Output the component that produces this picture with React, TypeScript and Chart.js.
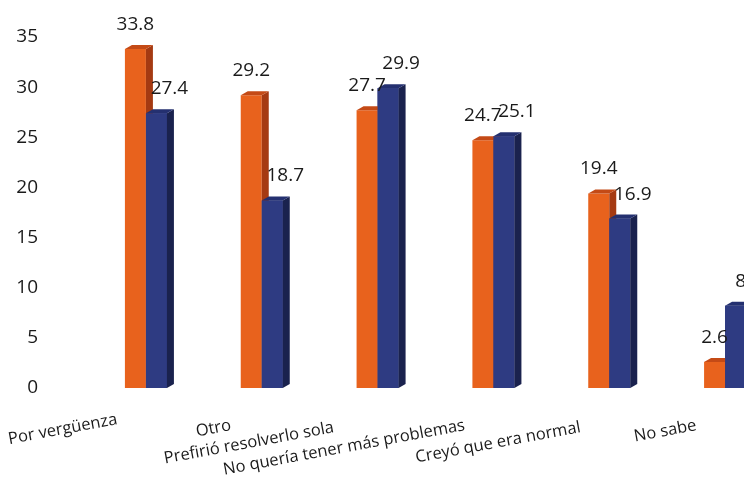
import React, { useEffect, useRef } from "react";
import { Chart, registerables } from "chart.js";

Chart.register(...registerables);

// ---- data ----
const CATEGORIES = [
  "Por vergüenza",
  "Otro",
  "Prefirió resolverlo sola",
  "No quería tener más problemas",
  "Creyó que era normal",
  "No sabe",
];
const SERIES_ORANGE = [33.8, 29.2, 27.7, 24.7, 19.4, 2.6];
const SERIES_BLUE = [27.4, 18.7, 29.9, 25.1, 16.9, 8.2];
const Y_MIN = 0;
const Y_MAX = 35;
const Y_STEP = 5;

// ---- layout / style ----
const CANVAS_W = 800;
const CANVAS_H = 485;
const PLOT_TOP = 37;
const PLOT_BOTTOM = 388;
const FONT = "'Open Sans', 'Noto Sans', sans-serif";
const ORANGE = { front: "#E8621D", top: "#C44A16", side: "#A53A12" };
const BLUE = { front: "#2E3B82", top: "#243070", side: "#1A224E" };
const DEPTH_X = 7;
const DEPTH_Y = 4;
const LABEL_SHIFT_X = [-28, -30, -43, -28, -28, -28];
const LABEL_DROP_Y = [36, 42, 44, 42, 44, 42];
const LABEL_ANGLE = (-10.5 * Math.PI) / 180;

function drawFaces(ctx: CanvasRenderingContext2D, el: any, colors: any, redrawFront: boolean) {
  const p = el.getProps(["x", "y", "base", "width"], true);
  const l = p.x - p.width / 2;
  const r = p.x + p.width / 2;
  const top = Math.min(p.y, p.base);
  const base = Math.max(p.y, p.base);
  if (redrawFront) {
    ctx.fillStyle = colors.front;
    ctx.fillRect(l, top, r - l, base - top);
  }
  ctx.fillStyle = colors.side;
  ctx.beginPath();
  ctx.moveTo(r, top);
  ctx.lineTo(r + DEPTH_X, top - DEPTH_Y);
  ctx.lineTo(r + DEPTH_X, base - DEPTH_Y);
  ctx.lineTo(r, base);
  ctx.closePath();
  ctx.fill();
  ctx.fillStyle = colors.top;
  ctx.beginPath();
  ctx.moveTo(l, top);
  ctx.lineTo(l + DEPTH_X, top - DEPTH_Y);
  ctx.lineTo(r + DEPTH_X, top - DEPTH_Y);
  ctx.lineTo(r, top);
  ctx.closePath();
  ctx.fill();
}

const threeDPlugin = {
  id: "threeD",
  afterDatasetsDraw(chart: any) {
    const ctx = chart.ctx as CanvasRenderingContext2D;
    const a = chart.getDatasetMeta(0).data;
    const b = chart.getDatasetMeta(1).data;
    ctx.save();
    for (let i = 0; i < a.length; i++) {
      drawFaces(ctx, a[i], ORANGE, false);
      if (b[i]) drawFaces(ctx, b[i], BLUE, true);
    }
    ctx.restore();
  },
};

const labelsPlugin = {
  id: "labels3d",
  afterDraw(chart: any) {
    const ctx = chart.ctx as CanvasRenderingContext2D;
    const xScale = chart.scales.x;
    const area = chart.chartArea;
    ctx.save();
    // value labels
    ctx.font = `19px ${FONT}`;
    ctx.fillStyle = "#1a1a1a";
    ctx.textAlign = "center";
    ctx.textBaseline = "alphabetic";
    const offsets = [0, 13];
    chart.data.datasets.forEach((ds: any, di: number) => {
      const meta = chart.getDatasetMeta(di);
      meta.data.forEach((el: any, i: number) => {
        const p = el.getProps(["x", "y"], true);
        ctx.fillText(ds.data[i].toFixed(1), p.x + offsets[di], p.y - 19);
      });
    });
    // category labels
    ctx.font = `16.5px ${FONT}`;
    ctx.fillStyle = "#1a1a1a";
    ctx.textAlign = "right";
    (chart.data.labels as string[]).forEach((lab, i) => {
      const x = xScale.getPixelForValue(i) + LABEL_SHIFT_X[i];
      const y = area.bottom + LABEL_DROP_Y[i];
      ctx.save();
      ctx.translate(x, y);
      ctx.rotate(LABEL_ANGLE);
      ctx.fillText(lab, 0, 0);
      ctx.restore();
    });
    ctx.restore();
  },
};

export default function App() {
  const ref = useRef<HTMLCanvasElement | null>(null);
  useEffect(() => {
    if (!ref.current) return;
    const chart = new Chart(ref.current, {
      type: "bar",
      data: {
        labels: CATEGORIES,
        datasets: [
          {
            label: "A",
            data: SERIES_ORANGE,
            backgroundColor: ORANGE.front,
            categoryPercentage: 0.3627,
            barPercentage: 1,
          },
          {
            label: "B",
            data: SERIES_BLUE,
            backgroundColor: BLUE.front,
            categoryPercentage: 0.3627,
            barPercentage: 1,
          },
        ],
      },
      options: {
        responsive: false,
        animation: false,
        devicePixelRatio: 1,
        layout: { padding: { left: 0, right: 17, top: PLOT_TOP, bottom: CANVAS_H - PLOT_BOTTOM } },
        plugins: {
          legend: { display: false },
          tooltip: { enabled: false },
        },
        scales: {
          x: { display: false },
          y: {
            min: Y_MIN,
            max: Y_MAX,
            ticks: {
              stepSize: Y_STEP,
              padding: 50,
              color: "#1a1a1a",
              font: { family: FONT, size: 19 },
            },
            grid: { display: false, drawTicks: false },
            border: { display: false },
            afterFit: (scale: any) => {
              scale.width = 88;
              scale.paddingTop = 10;
              scale.paddingBottom = 10;
            },
          },
        },
      },
      plugins: [threeDPlugin, labelsPlugin],
    });
    return () => chart.destroy();
  }, []);
  return (
    <div
      style={{
        position: "fixed",
        left: 0,
        top: 0,
        width: 744,
        height: 485,
        overflow: "hidden",
        background: "#ffffff",
      }}
    >
      <canvas ref={ref} width={CANVAS_W} height={CANVAS_H} style={{ display: "block" }} />
    </div>
  );
}
